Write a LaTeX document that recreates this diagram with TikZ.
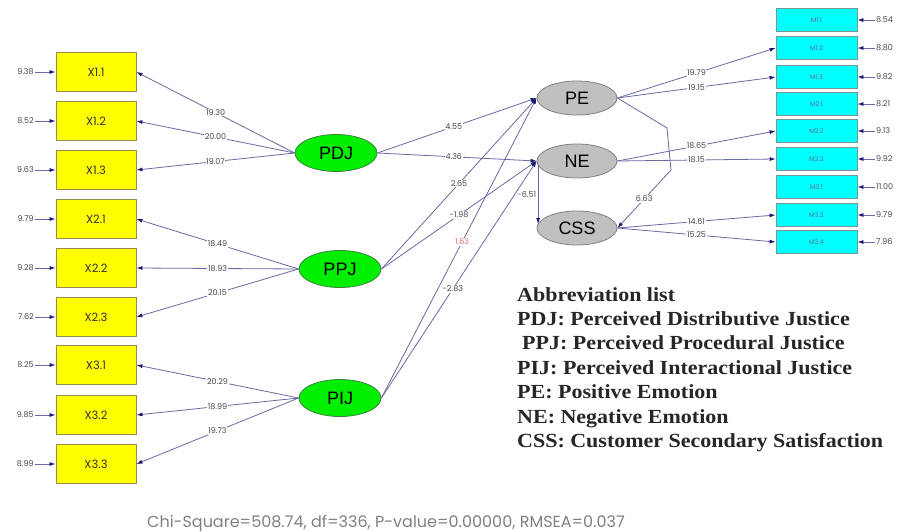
\documentclass[tikz,border=0pt]{standalone}
\usepackage{fontspec}
\setmainfont{Liberation Serif}
\newfontfamily\gothic{Poppins}
\newfontfamily\arialish{Liberation Sans}
\newfontfamily\abbrfont[FakeStretch=1.1]{Liberation Serif}
\usetikzlibrary{shapes.geometric,arrows.meta}
\definecolor{lineblue}{RGB}{105,105,165}
\definecolor{headblue}{RGB}{25,25,115}
\definecolor{ybord}{RGB}{150,140,80}
\definecolor{cbord}{RGB}{120,150,150}
\definecolor{gbord}{RGB}{60,130,60}
\definecolor{greyfill}{RGB}{192,192,192}
\definecolor{valtext}{RGB}{70,70,70}
\definecolor{redval}{RGB}{215,110,110}
\definecolor{yfill}{RGB}{255,255,0}
\definecolor{cfill}{RGB}{0,255,255}
\definecolor{gfill}{RGB}{0,238,0}
\definecolor{mtext}{RGB}{90,110,150}
\begin{document}
\begin{tikzpicture}[x=1pt,y=-1pt,
  xbox/.style={draw=ybord, fill=yfill, line width=0.9pt, minimum width=80pt, minimum height=39pt, inner sep=0pt, font=\gothic\fontsize{11.5}{11.5}\selectfont, text=black!80},
  mbox/.style={draw=cbord, fill=cfill, line width=0.8pt, minimum width=81pt, minimum height=23pt, inner sep=0pt, font=\gothic\fontsize{6.5}{6.5}\selectfont, text=mtext},
  exo/.style={ellipse, draw=gbord, fill=gfill, line width=0.8pt, minimum width=82pt, minimum height=37pt, inner sep=0pt, font=\arialish\fontsize{18}{18}\selectfont},
  endo/.style={ellipse, draw=gray, fill=greyfill, line width=0.8pt, minimum width=80pt, minimum height=34pt, inner sep=0pt, font=\arialish\fontsize{18}{18}\selectfont},
  conn/.style={draw=lineblue, line width=0.8pt, -{Latex[length=6pt,width=4pt,color=headblue]}},
  val/.style={font=\gothic\fontsize{8}{8}\selectfont, text=valtext, fill=white, inner sep=0.6pt},
  errval/.style={font=\gothic\fontsize{8}{8}\selectfont, text=valtext, inner sep=0.6pt}
]
\useasboundingbox (0,0) rectangle (905,532);
% left indicators
\foreach \n/\t/\y in {x11/X1.1/72, x12/X1.2/121, x13/X1.3/170, x21/X2.1/219, x22/X2.2/268, x23/X2.3/317, x31/X3.1/365, x32/X3.2/415, x33/X3.3/464}{
  \node[xbox] (\n) at (96,\y) {\t};
}
% left error values
\foreach \n/\v in {x11/9.38, x12/8.52, x13/9.63, x21/9.79, x22/9.28, x23/7.62, x31/8.25, x32/9.85, x33/8.99}{
  \node[errval, anchor=east] (e\n) at ([xshift=-21pt]\n.west) {\v};
  \draw[conn] (e\n) -- (\n);
}
% right indicators
\foreach \n/\t/\y in {m11/M1.1/20, m12/M1.2/48, m13/M1.3/77, m21/M2.1/104, m22/M2.2/131, m23/M2.3/159, m31/M3.1/187, m33/M3.3/215, m34/M3.4/242}{
  \node[mbox] (\n) at (816.5,\y) {\t};
}
\foreach \n/\v in {m11/8.54, m12/8.80, m13/9.82, m21/8.21, m22/9.13, m23/9.92, m31/11.00, m33/9.79, m34/7.96}{
  \node[errval, anchor=west] (e\n) at ([xshift=18pt]\n.east) {\v};
  \draw[conn] (e\n) -- (\n);
}
% latent variables
\node[exo] (pdj) at (336,153) {PDJ};
\node[exo] (ppj) at (340,269) {PPJ};
\node[exo] (pij) at (340,398) {PIJ};
\node[endo] (pe) at (577,98) {PE};
\node[endo] (ne) at (577,161) {NE};
\node[endo] (css) at (577,228) {CSS};
% loadings left
\draw[conn] (pdj.west) -- node[val]{19.30} (x11.east);
\draw[conn] (pdj.west) -- node[val]{20.00} (x12.east);
\draw[conn] (pdj.west) -- node[val]{19.07} (x13.east);
\draw[conn] (ppj.west) -- node[val]{18.49} (x21.east);
\draw[conn] (ppj.west) -- node[val]{18.93} (x22.east);
\draw[conn] (ppj.west) -- node[val]{20.15} (x23.east);
\draw[conn] (pij.west) -- node[val]{20.29} (x31.east);
\draw[conn] (pij.west) -- node[val]{18.99} (x32.east);
\draw[conn] (pij.west) -- node[val]{19.73} (x33.east);
% loadings right
\draw[conn] (pe.east) -- node[val]{19.79} (m12.west);
\draw[conn] (pe.east) -- node[val]{19.15} (m13.west);
\draw[conn] (ne.east) -- node[val]{18.65} (m22.west);
\draw[conn] (ne.east) -- node[val]{18.15} (m23.west);
\draw[conn] (css.east) -- node[val]{14.61} (m33.west);
\draw[conn] (css.east) -- node[val]{15.25} (m34.west);
% structural paths
\draw[conn] (pdj.east) -- node[val, pos=0.48]{4.55} (pe.west);
\draw[conn] (pdj.east) -- node[val, pos=0.48]{4.36} (ne.west);
\draw[conn] (ppj.east) -- node[val]{2.65} (pe.west);
\draw[conn] (ppj.east) -- node[val]{-1.98} (ne.west);
\draw[conn] (pij.east) -- node[val, pos=0.52, text=redval]{1.63} (pe.west);
\draw[conn] (pij.east) -- node[val, pos=0.46]{-2.83} (ne.west);
\draw[conn] ([xshift=1.5pt,yshift=-4pt]ne.west) -- node[errval, left=1pt]{-6.51} ([xshift=1.5pt,yshift=4pt]css.west);
\coordinate (b1) at (667,128);
\coordinate (b2) at (671,170);
\draw[conn] (pe.east) -- (b1) -- (b2) -- node[val]{6.63} (css.east);
% abbreviation list
\node[anchor=north west, align=left, inner sep=0pt, font=\abbrfont\bfseries\fontsize{20}{24.4}\selectfont, text=black!85] (abbr) at (517,287) {Abbreviation list\\
PDJ: Perceived Distributive Justice\\
\hspace*{5pt}PPJ: Perceived Procedural Justice\\
PIJ: Perceived Interactional Justice\\
PE: Positive Emotion\\
NE: Negative Emotion\\
CSS: Customer Secondary Satisfaction};
% fit statistics
\node[anchor=west, inner sep=0pt, font=\gothic\fontsize{16}{16}\selectfont, text=gray] (fit) at (147,523) {Chi-Square=508.74, df=336, P-value=0.00000, RMSEA=0.037};
\end{tikzpicture}
\end{document}
